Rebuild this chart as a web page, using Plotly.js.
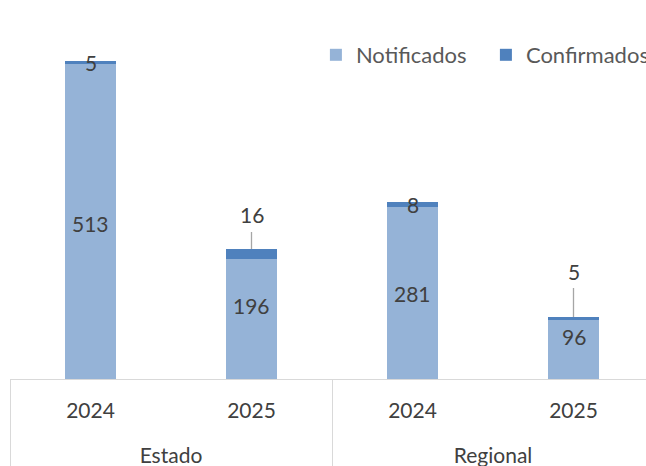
<!DOCTYPE html>
<html>
<head>
<meta charset="utf-8">
<script src="https://cdn.plot.ly/plotly-3.0.1.min.js"></script>
<style>
html,body{margin:0;padding:0;overflow:hidden;background:#fff;}
#chart{width:700px;height:466px;}
</style>
</head>
<body>
<div id="chart"></div>
<script>
// Data
var groups = ['Estado', 'Estado', 'Regional', 'Regional'];
var years = ['2024', '2025', '2024', '2025'];
var notificados = [513, 196, 281, 96];
var confirmados = [5, 16, 8, 5];
var seriesNames = ['Notificados', 'Confirmados'];

// Styling config (not data)
var FONT = 'Lato, "Open Sans", sans-serif';
var TXT = '#404040';
var notifShift = [-2, 13, -1, 13];      // px upward nudges for notificados labels
var confLeader = [0, -34, 0, -46];      // px leader offsets for confirmados labels (0 = on bar)
var GROUP_GAP = 45;                     // px between year-label row and group-label row

var xcats = [groups, years];

var traces = [
  {type: 'bar', name: seriesNames[0], x: xcats, y: notificados,
   marker: {color: '#95B3D7', line: {width: 0}}, hoverinfo: 'none'},
  {type: 'bar', name: seriesNames[1], x: xcats, y: confirmados,
   marker: {color: '#4F81BD', line: {width: 0}}, hoverinfo: 'none'}
];

var annotations = [];
for (var i = 0; i < notificados.length; i++) {
  annotations.push({
    xref: 'x', yref: 'y', x: i, y: notificados[i] / 2,
    text: String(notificados[i]), showarrow: false,
    yshift: notifShift[i],
    font: {family: FONT, size: 21, color: TXT}
  });
  var barTop = notificados[i] + confirmados[i];
  if (confLeader[i] === 0) {
    annotations.push({
      xref: 'x', yref: 'y', x: i, y: notificados[i] + confirmados[i] / 2,
      text: String(confirmados[i]), showarrow: false,
      font: {family: FONT, size: 21, color: TXT}
    });
  } else {
    annotations.push({
      xref: 'x', yref: 'y', x: i, y: barTop,
      text: String(confirmados[i]), showarrow: true,
      arrowhead: 0, arrowwidth: 1.3, arrowcolor: '#A6A6A6',
      ax: 0, ay: confLeader[i], standoff: 0, startstandoff: 3,
      font: {family: FONT, size: 21, color: TXT}
    });
  }
}

var layout = {
  width: 700, height: 466,
  margin: {l: 10, r: 46, t: 20, b: 87},
  paper_bgcolor: '#ffffff', plot_bgcolor: '#ffffff',
  barmode: 'stack', bargap: 0.683,
  showlegend: true,
  legend: {orientation: 'h', x: 0.475, xanchor: 'left', y: 0.9025, yanchor: 'middle',
           font: {family: FONT, size: 22, color: '#595959'},
           traceorder: 'normal', itemclick: false,
           entrywidth: 125, entrywidthmode: 'pixels'},
  font: {family: FONT, size: 21, color: TXT},
  xaxis: {type: 'multicategory', showline: true, linecolor: '#D9D9D9', linewidth: 1,
          showdividers: true, dividercolor: '#D9D9D9', dividerwidth: 1,
          ticks: '', ticklabelstandoff: 13, tickfont: {family: FONT, size: 21, color: TXT},
          showgrid: false, zeroline: false, fixedrange: true},
  yaxis: {range: [0, 585], visible: false, showgrid: false, zeroline: false, fixedrange: true},
  annotations: annotations
};

function centerY(el) { var r = el.getBoundingClientRect(); return r.top + r.height / 2; }

Plotly.newPlot('chart', traces, layout, {displayModeBar: false, staticPlot: true}).then(function (gd) {
  var primary = gd.querySelector('.xtick text');
  if (primary) {
    var target = centerY(primary) + GROUP_GAP;
    gd.querySelectorAll('.xtick2').forEach(function (g) {
      var t = g.querySelector('text');
      if (!t) return;
      var dy = target - centerY(t);
      var prev = g.getAttribute('transform') || '';
      g.setAttribute('transform', prev + ' translate(0,' + dy + ')');
    });
  }
  // extend the group dividers down to the bottom edge
  gd.querySelectorAll('.xdivider').forEach(function (p) {
    var d = p.getAttribute('d') || '';
    p.setAttribute('d', d.replace(/v(-?[\d.]+)/, function (m, n) {
      return 'v' + (parseFloat(n) >= 0 ? 120 : -120);
    }));
  });
});
</script>
</body>
</html>
